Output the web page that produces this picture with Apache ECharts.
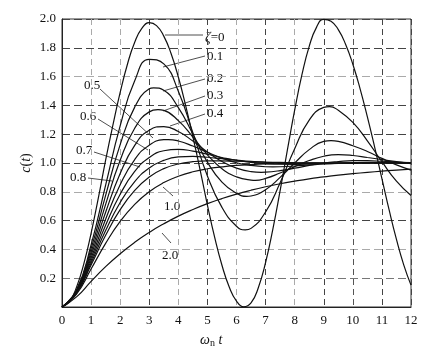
<!DOCTYPE html>
<html>
<head>
<meta charset="utf-8">
<script src="https://cdn.jsdelivr.net/npm/echarts@6/dist/echarts.min.js"></script>
<style>
  html, body { margin: 0; padding: 0; background: #fff; }
  #main { width: 434px; height: 354px; }
</style>
</head>
<body>
<div id="main"></div>
<script>
// time axis (omega_n t)
var tVals = [0, 0.5, 1, 1.5, 2, 2.5, 3, 3.5, 4, 4.5, 5, 5.5, 6, 6.5, 7, 7.5, 8, 8.5, 9, 9.5, 10, 10.5, 11, 11.5, 12];
// finer time steps for the undamped curve
var tFine = [0, 0.25, 0.5, 0.75, 1, 1.25, 1.5, 1.75, 2, 2.25, 2.5, 2.75, 3, 3.25, 3.5, 3.75, 4, 4.25, 4.5, 4.75, 5, 5.25, 5.5, 5.75, 6,
             6.25, 6.5, 6.75, 7, 7.25, 7.5, 7.75, 8, 8.25, 8.5, 8.75, 9, 9.25, 9.5, 9.75, 10, 10.25, 10.5, 10.75, 11, 11.25, 11.5, 11.75, 12];

// c(t)
var z00 = [0, 0.035, 0.138, 0.300, 0.512, 0.758, 1.020, 1.263, 1.490, 1.686, 1.838, 1.936, 1.975, 1.954, 1.881, 1.760, 1.597, 1.400, 1.182, 0.951, 0.708, 0.483, 0.290, 0.139, 0.041,
           0.001, 0.028, 0.134, 0.309, 0.541, 0.808, 1.091, 1.367, 1.613, 1.810, 1.942, 1.998, 1.985, 1.926, 1.825, 1.686, 1.515, 1.320, 1.111, 0.892, 0.672, 0.469, 0.293, 0.152];
var z01 = [0, 0.118, 0.431, 0.846, 1.258, 1.571, 1.720, 1.688, 1.498, 1.210, 0.910, 0.692, 0.561, 0.546, 0.660, 0.863, 1.099, 1.298, 1.386, 1.366, 1.282, 1.154, 1.009, 0.874, 0.774];
var z02 = [0, 0.115, 0.405, 0.775, 1.128, 1.388, 1.515, 1.505, 1.385, 1.201, 1.006, 0.867, 0.790, 0.771, 0.815, 0.900, 1.000, 1.093, 1.150, 1.150, 1.120, 1.080, 1.032, 0.987, 0.951];
var z03 = [0, 0.111, 0.381, 0.713, 1.019, 1.241, 1.355, 1.365, 1.294, 1.180, 1.057, 0.960, 0.904, 0.881, 0.893, 0.931, 0.975, 1.017, 1.047, 1.058, 1.052, 1.038, 1.024, 1.009, 0.996];
var z04 = [0, 0.108, 0.360, 0.658, 0.927, 1.122, 1.228, 1.253, 1.219, 1.152, 1.076, 1.010, 0.964, 0.940, 0.936, 0.947, 0.964, 0.983, 1.000, 1.010, 1.016, 1.016, 1.012, 1.006, 1.001];
var z05 = [0, 0.104, 0.340, 0.610, 0.849, 1.024, 1.124, 1.162, 1.153, 1.118, 1.075, 1.034, 1.002, 0.983, 0.974, 0.974, 0.979, 0.986, 0.993, 0.998, 1.002, 1.004, 1.004, 1.004, 1.003];
var z06 = [0, 0.101, 0.322, 0.568, 0.783, 0.941, 1.038, 1.085, 1.095, 1.083, 1.061, 1.038, 1.018, 1.004, 0.996, 0.992, 0.991, 0.992, 0.995, 0.997, 0.998, 1.000, 1.000, 1.000, 1.000];
var z07 = [0, 0.098, 0.306, 0.531, 0.726, 0.871, 0.965, 1.018, 1.042, 1.046, 1.040, 1.030, 1.020, 1.011, 1.005, 1.001, 0.999, 0.999, 0.999, 1.000, 1.000, 1.000, 1.000, 1.000, 1.000];
var z08 = [0, 0.096, 0.291, 0.498, 0.676, 0.810, 0.903, 0.961, 0.993, 1.009, 1.015, 1.015, 1.012, 1.009, 1.006, 1.004, 1.002, 1.001, 1.000, 1.000, 1.000, 1.000, 1.000, 1.000, 1.000];
var z10 = [0, 0.090, 0.264, 0.442, 0.594, 0.713, 0.801, 0.864, 0.908, 0.939, 0.960, 0.973, 0.983, 0.989, 0.993, 0.995, 0.997, 0.998, 0.999, 0.999, 1.000, 1.000, 1.000, 1.000, 1.000];
var z20 = [0, 0.070, 0.178, 0.280, 0.370, 0.449, 0.518, 0.578, 0.631, 0.677, 0.718, 0.753, 0.784, 0.811, 0.835, 0.856, 0.874, 0.890, 0.903, 0.916, 0.926, 0.935, 0.943, 0.951, 0.957];

// peaks / troughs between sample times, [t, c]
var x01 = [[6.3, 0.535], [9.2, 1.392]];
var x02 = [[3.15, 1.522], [6.35, 0.768], [9.25, 1.155]];
var x03 = [[3.3, 1.370], [6.65, 0.879]];
var x04 = [[6.85, 0.935]];
var x05 = [[3.65, 1.163], [7.25, 0.973]];

var curves = [
    [tFine, z00, []], [tVals, z01, x01], [tVals, z02, x02], [tVals, z03, x03],
    [tVals, z04, x04], [tVals, z05, x05], [tVals, z06, []], [tVals, z07, []],
    [tVals, z08, []], [tVals, z10, []], [tVals, z20, []]
];

// grid line shades, one per tick
var ySplitColors = ['#555', '#777', '#aaa', '#444', '#aaa', '#444', '#444', '#444', '#aaa', '#444', '#444'];
var xSplitColors = ['#555', '#aaa', '#aaa', '#444', '#aaa', '#444', '#aaa', '#444', '#aaa', '#444', '#555', '#444', '#444'];

var serif = '"Liberation Serif", "DejaVu Serif", serif';

var chart = echarts.init(document.getElementById('main'));

var series = curves.map(function (c) {
    var pts = c[0].map(function (x, i) { return [x, c[1][i]]; }).concat(c[2]);
    pts.sort(function (a, b) { return a[0] - b[0]; });
    return {
        type: 'line',
        data: pts,
        smooth: 0.5,
        symbol: 'none',
        lineStyle: { color: '#111', width: 1.2 },
        silent: true
    };
});

function txt(x, y, s, align) {
    return {
        type: 'text', x: x, y: y, silent: true,
        style: {
            text: s, fill: '#111', font: '13px ' + serif,
            align: align || 'left', verticalAlign: 'middle',
            rich: { i: { fontStyle: 'italic', fontFamily: serif, fontSize: 14, fill: '#111' } }
        }
    };
}
function ln(x1, y1, x2, y2) {
    return {
        type: 'line', silent: true,
        shape: { x1: x1, y1: y1, x2: x2, y2: y2 },
        style: { stroke: '#222', lineWidth: 0.8 }
    };
}

var option = {
    animation: false,
    backgroundColor: '#fff',
    grid: { left: 62, right: 23, top: 19, bottom: 47, show: true, borderColor: '#333', borderWidth: 1 },
    xAxis: {
        type: 'value', min: 0, max: 12, interval: 1,
        axisLine: { lineStyle: { color: '#222', width: 1 } },
        axisTick: { show: false },
        axisLabel: { color: '#111', fontFamily: serif, fontSize: 13, margin: 7 },
        splitLine: { show: true, lineStyle: { color: xSplitColors, type: [6, 4], width: 1 } }
    },
    yAxis: {
        type: 'value', min: 0, max: 2, interval: 0.2,
        axisLine: { show: true, lineStyle: { color: '#222', width: 1 } },
        axisTick: { show: false },
        axisLabel: {
            color: '#111', fontFamily: serif, fontSize: 13, margin: 6,
            formatter: function (v) { return v === 0 ? '' : v.toFixed(1); }
        },
        splitLine: { show: true, lineStyle: { color: ySplitColors, type: [8, 4], width: 1 } }
    },
    series: series,
    graphic: [
        // axis names
        {
            type: 'text', x: 26, y: 163, rotation: Math.PI / 2, silent: true,
            style: {
                text: '{i|c}({i|t})', font: '14px ' + serif, fill: '#111',
                align: 'center', verticalAlign: 'middle',
                rich: { i: { fontStyle: 'italic', fontFamily: serif, fontSize: 14, fill: '#111' } }
            }
        },
        {
            type: 'text', x: 200, y: 340, silent: true,
            style: {
                text: '{i|ω}{s|n}{i| t}', font: '14px ' + serif, fill: '#111',
                align: 'left', verticalAlign: 'middle',
                rich: {
                    i: { fontStyle: 'italic', fontFamily: serif, fontSize: 14, fill: '#111' },
                    s: { fontFamily: serif, fontSize: 10, fill: '#111', padding: [6, 0, 0, 0] }
                }
            }
        },
        // damping ratio labels with leader lines
        ln(165, 35, 203, 35), txt(205, 38, '{i|ζ}=0'),
        ln(163, 67, 205, 56), txt(207, 57, '0.1'),
        ln(163, 91, 205, 79), txt(207, 79, '0.2'),
        ln(163, 111, 205, 96), txt(207, 96, '0.3'),
        ln(170, 126, 205, 114), txt(207, 114, '0.4'),
        txt(92, 86, '0.5', 'center'), ln(100, 89, 153, 138),
        txt(88, 117, '0.6', 'center'), ln(98, 119, 148, 150),
        txt(84, 151, '0.7', 'center'), ln(94, 152, 140, 167),
        txt(78, 178, '0.8', 'center'), ln(88, 178, 112, 181),
        ln(163, 187, 173, 196), txt(172, 207, '1.0', 'center'),
        ln(162, 233, 171, 243), txt(170, 256, '2.0', 'center')
    ]
};
chart.setOption(option);
</script>
</body>
</html>
